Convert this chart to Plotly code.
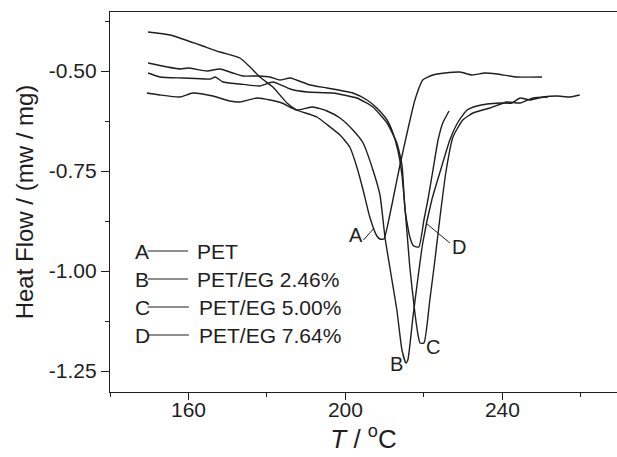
import plotly.graph_objects as go

# ---------------- data ----------------
T_A = [149.7, 155.3, 162.9, 168.0, 173.1, 175.7, 178.2, 181.5, 185.1, 187.6, 192.7, 196.1,
       198.6, 201.1, 202.9, 204.5, 206.2, 208.0, 208.8, 209.8, 211.3, 212.6, 213.9, 215.7,
       217.7, 219.7, 222.3, 225.4, 229.2, 232.3, 235.5, 238.6, 243.7, 250.1]
HF_A = [-0.4025, -0.41, -0.435, -0.4525, -0.4675, -0.49, -0.515, -0.54, -0.58, -0.5975, -0.615, -0.64,
        -0.66, -0.69, -0.74, -0.7975, -0.865, -0.9125, -0.92, -0.92, -0.86, -0.7975, -0.735, -0.655,
        -0.5725, -0.5225, -0.51, -0.505, -0.5025, -0.51, -0.505, -0.5075, -0.515, -0.515]

T_B = [149.4, 152.7, 157.8, 161.1, 166.2, 170.5, 173.1, 177.5, 180.8, 183.8, 187.6, 191.7, 195.3,
       198.6, 201.9, 204.5, 207.0, 208.8, 210.1, 211.3, 213.1, 214.4, 215.4, 215.9, 217.2, 218.5,
       219.7, 222.0, 224.1, 226.6, 228.7, 231.0, 233.5, 236.1, 239.4, 242.4, 244.5, 247.0, 250.3,
       253.9, 257.2, 259.7]
HF_B = [-0.555, -0.56, -0.565, -0.555, -0.5625, -0.575, -0.5775, -0.5675, -0.5725, -0.58, -0.5975,
        -0.59, -0.60, -0.6175, -0.6475, -0.68, -0.7475, -0.81, -0.9175, -0.99, -1.0975, -1.1975,
        -1.23, -1.2225, -1.115, -1.015, -0.93, -0.8225, -0.7525, -0.6725, -0.6275, -0.5975, -0.5875,
        -0.5825, -0.58, -0.58, -0.5675, -0.5725, -0.565, -0.5625, -0.565, -0.56]

T_C = [149.7, 154.6, 158.0, 159.9, 164.7, 168.0, 171.3, 173.9, 177.5, 180.8, 183.3, 185.9, 191.0,
       195.3, 201.9, 205.5, 208.0, 210.6, 212.1, 213.4, 214.4, 215.7, 216.4, 217.7, 218.5, 219.0,
       220.0, 221.5, 222.8, 224.1, 225.6, 227.4, 229.9, 232.5, 236.8, 241.1, 244.5, 247.8, 251.6]
HF_C = [-0.48, -0.49, -0.495, -0.4925, -0.50, -0.495, -0.505, -0.5125, -0.5125, -0.515, -0.5225,
        -0.5175, -0.535, -0.5425, -0.555, -0.5725, -0.5925, -0.6225, -0.655, -0.7, -0.76, -0.905,
        -0.99, -1.105, -1.16, -1.18, -1.18, -1.0725, -0.9725, -0.865, -0.7525, -0.665, -0.6225,
        -0.605, -0.5925, -0.5775, -0.58, -0.5675, -0.565]

T_D = [149.7, 152.7, 158.6, 165.5, 166.8, 168.8, 173.1, 178.2, 181.5, 185.9, 190.2, 196.8, 202.9,
       207.0, 210.6, 213.1, 214.4, 215.2, 216.4, 217.4, 218.7, 220.0, 221.0, 222.3, 223.6, 224.8,
       226.4]
HF_D = [-0.505, -0.515, -0.5175, -0.52, -0.515, -0.5275, -0.5325, -0.5375, -0.5275, -0.545, -0.5525,
        -0.555, -0.5675, -0.59, -0.63, -0.68, -0.735, -0.8475, -0.915, -0.9375, -0.94, -0.8725,
        -0.8225, -0.7475, -0.6725, -0.63, -0.60]

letters = ["A", "B", "C", "D"]
names = ["PET", "PET/EG 2.46%", "PET/EG 5.00%", "PET/EG 7.64%"]

x_ticks = [160, 200, 240]
y_ticks = [-0.50, -0.75, -1.00, -1.25]
y_ticklabels = ["-0.50", "-0.75", "-1.00", "-1.25"]

# ---------------- figure ----------------
FONT = "Liberation Sans, Arial, Helvetica, sans-serif"
INK = "#1e1e1e"

fig = go.Figure()
for T, HF, nm in [(T_A, HF_A, names[0]), (T_B, HF_B, names[1]),
                  (T_C, HF_C, names[2]), (T_D, HF_D, names[3])]:
    fig.add_trace(go.Scatter(x=T, y=HF, mode="lines", name=nm,
                             line=dict(color=INK, width=1.4, shape="spline", smoothing=0.5),
                             showlegend=False, hoverinfo="skip"))

# curve labels with leader lines (drawn as shapes)
fig.add_shape(type="line", x0=204.6, y0=-0.9225, x1=207.3, y1=-0.8925, xref="x", yref="y",
              line=dict(color=INK, width=1))
fig.add_annotation(x=202.6, y=-0.91, text="A", showarrow=False,
                   font=dict(family=FONT, size=20, color=INK))
fig.add_shape(type="line", x0=220.8, y0=-0.8825, x1=226.6, y1=-0.93, xref="x", yref="y",
              line=dict(color=INK, width=1))
fig.add_annotation(x=228.9, y=-0.94, text="D", showarrow=False,
                   font=dict(family=FONT, size=20, color=INK))
fig.add_annotation(x=212.9, y=-1.2325, text="B", showarrow=False,
                   font=dict(family=FONT, size=20, color=INK))
fig.add_annotation(x=222.4, y=-1.19, text="C", showarrow=False,
                   font=dict(family=FONT, size=20, color=INK))

# text legend block
legend_y = [-0.95, -1.02, -1.09, -1.16]
for i, (lt, nm) in enumerate(zip(letters, names)):
    yy = legend_y[i]
    fig.add_annotation(x=145.8, y=yy, text=lt, showarrow=False, xanchor="left",
                       font=dict(family=FONT, size=21, color=INK))
    x1 = 159.9 if i < 2 else 160.1
    fig.add_shape(type="line", x0=149.6, x1=x1, y0=yy, y1=yy, xref="x", yref="y",
                  line=dict(color=INK, width=1))
    fig.add_annotation(x=161.6 if i < 2 else 162.1, y=yy, text=nm, showarrow=False,
                       xanchor="left", font=dict(family=FONT, size=21, color=INK))

fig.update_layout(
    width=617, height=457,
    margin=dict(l=110, r=0, t=12, b=65, autoexpand=False),
    paper_bgcolor="white", plot_bgcolor="white",
    font=dict(family=FONT, color=INK),
    showlegend=False,
)
fig.update_xaxes(
    range=[140.0, 269.2], tickmode="array", tickvals=x_ticks,
    ticks="outside", ticklen=7, tickwidth=1.3, tickcolor=INK,
    minor=dict(dtick=20, tick0=140, ticks="outside", ticklen=4, tickwidth=1.3, tickcolor=INK),
    showline=True, linecolor=INK, linewidth=1.3, mirror=True,
    showgrid=False, zeroline=False, ticklabelstandoff=-8,
    tickfont=dict(family=FONT, size=21, color=INK),
    title=dict(text="<i>T</i> / <sup>o</sup>C", font=dict(family=FONT, size=26, color=INK),
               standoff=2),
)
fig.update_yaxes(
    range=[-1.3025, -0.3525], tickmode="array", tickvals=y_ticks, ticktext=y_ticklabels,
    ticks="outside", ticklen=8, tickwidth=1.3, tickcolor=INK,
    minor=dict(dtick=0.125, tick0=-0.375, ticks="outside", ticklen=4, tickwidth=1.3, tickcolor=INK),
    showline=True, linecolor=INK, linewidth=1.3, mirror=False,
    showgrid=False, zeroline=False,
    tickfont=dict(family=FONT, size=21, color=INK),
    title=dict(text="Heat Flow / (mw / mg)", font=dict(family=FONT, size=24, color=INK),
               standoff=8),
)

fig.write_html("out.html")
